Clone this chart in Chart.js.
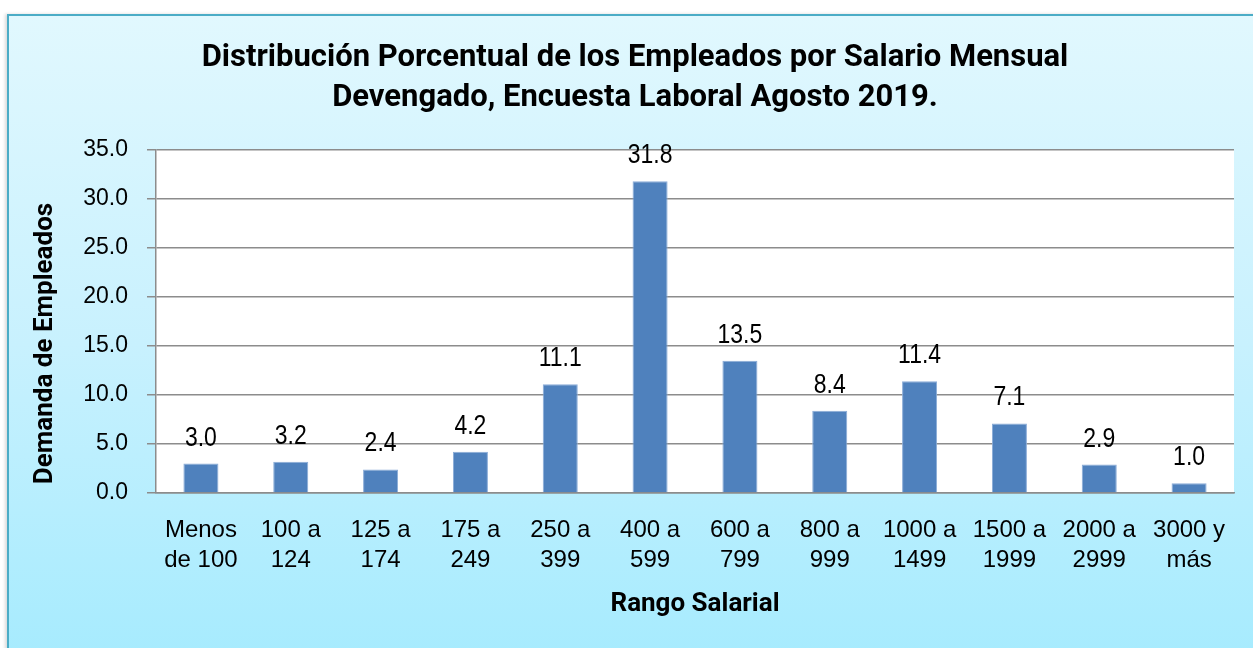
<!DOCTYPE html>
<html>
<head>
<meta charset="utf-8">
<script src="https://cdn.jsdelivr.net/npm/chart.js@4.4.1/dist/chart.umd.min.js"></script>
<style>
  html, body { margin: 0; padding: 0; background: #ffffff; width: 1253px; height: 648px; overflow: hidden; }
  #frame {
    position: absolute; left: 7px; top: 14px; width: 1260px; height: 660px;
    border: 2px solid #4BACC6; box-sizing: border-box;
    background: linear-gradient(to bottom, #E1F8FE 0%, #C8F1FE 50%, #A5EBFE 100%);
    box-shadow: -2px 0 3px rgba(0,0,0,0.15);
  }
  #wrap { position: absolute; left: 0; top: 0; width: 1253px; height: 648px; }
</style>
</head>
<body>
<div id="frame"></div>
<div id="wrap"><canvas id="c" width="1253" height="648"></canvas></div>
<script>
const categories = [
  ["Menos", "de 100"], ["100 a", "124"], ["125 a", "174"], ["175 a", "249"],
  ["250 a", "399"], ["400 a", "599"], ["600 a", "799"], ["800 a", "999"],
  ["1000 a", "1499"], ["1500 a", "1999"], ["2000 a", "2999"], ["3000 y", "más"]
];
const values = [3.0, 3.2, 2.4, 4.2, 11.1, 31.8, 13.5, 8.4, 11.4, 7.1, 2.9, 1.0];
const titleLines = ["Distribución Porcentual de los Empleados por Salario Mensual", "Devengado, Encuesta Laboral Agosto 2019."];
const yTitle = "Demanda de Empleados";
const xTitle = "Rango Salarial";

const FONT = "'Liberation Sans', Arial, sans-serif";
const BOLD = "Roboto, 'Liberation Sans', sans-serif";

const plotBg = {
  id: 'plotBg',
  beforeDraw(chart) {
    const {ctx, chartArea: a} = chart;
    ctx.save();
    ctx.fillStyle = '#ffffff';
    ctx.fillRect(a.left, a.top, a.right - a.left, a.bottom - a.top);
    ctx.restore();
  }
};

const dataLabels = {
  id: 'dataLabels',
  afterDatasetsDraw(chart) {
    const {ctx} = chart;
    const meta = chart.getDatasetMeta(0);
    const sx = 0.82;
    ctx.save();
    ctx.font = "28px " + FONT;
    ctx.fillStyle = '#000000';
    ctx.textAlign = 'center';
    ctx.textBaseline = 'alphabetic';
    meta.data.forEach((bar, i) => {
      ctx.save();
      ctx.translate(bar.x, bar.y - 18);
      ctx.scale(sx, 1);
      ctx.fillText(values[i].toFixed(1), 0, 0);
      ctx.restore();
    });
    ctx.restore();
  }
};

const yTitlePlugin = {
  id: 'yTitlePlugin',
  afterDraw(chart) {
    const {ctx, chartArea: a} = chart;
    ctx.save();
    ctx.font = "bold 26px " + BOLD;
    ctx.fillStyle = '#000000';
    ctx.textAlign = 'center';
    ctx.textBaseline = 'middle';
    ctx.translate(45, (a.top + a.bottom) / 2 + 22);
    ctx.rotate(-Math.PI / 2);
    ctx.fillText(yTitle, 0, 0);
    ctx.restore();
  }
};

new Chart(document.getElementById('c'), {
  type: 'bar',
  data: {
    labels: categories,
    datasets: [{
      data: values,
      backgroundColor: '#4F81BD',
      borderColor: '#8AACD8',
      borderWidth: {top: 1, left: 1, right: 1, bottom: 0},
      barPercentage: 0.39,
      categoryPercentage: 1.0
    }]
  },
  options: {
    responsive: false,
    animation: false,
    devicePixelRatio: 1,
    layout: { padding: { left: 36, right: 19, top: 0, bottom: 0 } },
    plugins: {
      legend: { display: false },
      tooltip: { enabled: false },
      title: {
        display: true,
        text: titleLines,
        color: '#000000',
        font: { family: BOLD, size: 31, weight: 'bold', lineHeight: 40/31 },
        padding: { top: 38, bottom: 32 }
      }
    },
    scales: {
      x: {
        grid: { display: false, drawTicks: false },
        border: { display: true, color: '#8C8C8C', width: 1.5 },
        ticks: {
          color: '#000000',
          font: { family: FONT, size: 24, lineHeight: 30/24 },
          padding: 22,
          maxRotation: 0, minRotation: 0, autoSkip: false
        },
        title: {
          display: true,
          text: xTitle,
          color: '#000000',
          font: { family: BOLD, size: 26, weight: 'bold' },
          padding: { top: 0, bottom: 28 }
        },
        afterFit(scale) { scale.height = 648 - 493; }
      },
      y: {
        min: 0, max: 35,
        ticks: {
          stepSize: 5,
          color: '#000000',
          font: { family: FONT, size: 23 },
          padding: 19,
          callback: (v) => Number(v).toFixed(1)
        },
        grid: { color: '#8C8C8C', lineWidth: 1.5, tickLength: 9, drawTicks: true },
        border: { display: true, color: '#8C8C8C', width: 1.5 },
        title: { display: false },
        afterFit(scale) { scale.width = 156 - 36; }
      }
    }
  },
  plugins: [plotBg, dataLabels, yTitlePlugin]
});
</script>
</body>
</html>
